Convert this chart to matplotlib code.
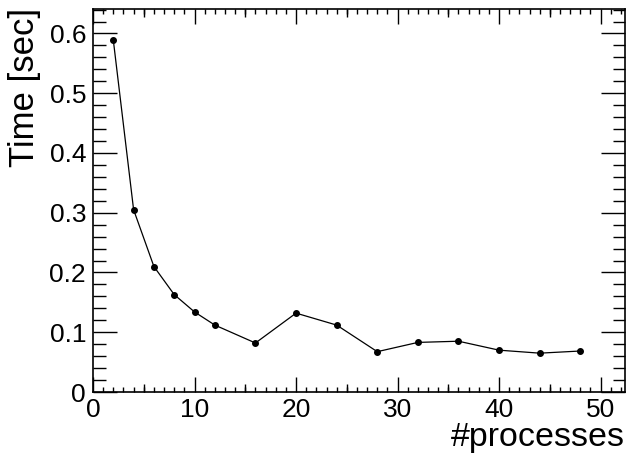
import matplotlib
matplotlib.use("Agg")
import matplotlib.pyplot as plt
from matplotlib.ticker import MultipleLocator, NullFormatter

processes = [2, 4, 6, 8, 10, 12, 16, 20, 24, 28, 32, 36, 40, 44, 48]
time_sec = [0.589, 0.305, 0.210, 0.163, 0.134, 0.112, 0.082, 0.132, 0.112,
            0.0675, 0.083, 0.085, 0.070, 0.065, 0.0686]

plt.rcParams["font.family"] = ["Liberation Sans", "DejaVu Sans"]

fig = plt.figure(figsize=(6.3, 4.55), dpi=100)
ax = fig.add_axes([93 / 630, 1 - 392 / 455, (625 - 93) / 630, (392 - 9) / 455])

ax.plot(processes, time_sec, color="black", lw=0.9, marker="o", ms=4,
        markerfacecolor="black", markeredgecolor="black")

ax.set_xlim(0, 52.4)
ax.set_ylim(0, 0.641)

for s in ax.spines.values():
    s.set_linewidth(1.2)

ax.xaxis.set_major_locator(MultipleLocator(10))
ax.xaxis.set_minor_locator(MultipleLocator(1))
ax.yaxis.set_major_locator(MultipleLocator(0.1))
ax.yaxis.set_minor_locator(MultipleLocator(0.02))
ax.tick_params(axis="both", which="both", direction="in", top=True, right=True,
               labelsize=19, width=1.0)
ax.tick_params(axis="x", which="major", length=11, pad=4)
ax.tick_params(axis="x", which="minor", length=3.5)
ax.tick_params(axis="y", which="major", length=17, pad=5)
ax.tick_params(axis="y", which="minor", length=9)

ax.set_xticks([0, 10, 20, 30, 40, 50])
ax.set_xticklabels(["0", "10", "20", "30", "40", "50"])
ax.set_yticks([0, 0.1, 0.2, 0.3, 0.4, 0.5, 0.6])
ax.set_yticklabels(["0", "0.1", "0.2", "0.3", "0.4", "0.5", "0.6"])

# medium ticks every 5 on the x axis (bottom and top)
for side in ("bottom", "top"):
    sec = ax.secondary_xaxis(side)
    sec.set_xticks([5, 15, 25, 35, 45])
    sec.xaxis.set_major_formatter(NullFormatter())
    sec.tick_params(direction="in", length=6, width=1.0)
    sec.spines[side].set_visible(False)

fig.text(625 / 630, 1 - 446 / 455, "#processes", ha="right", va="baseline",
         fontsize=24.5)
fig.text(8 / 630, 1 - 8 / 455, "Time [sec]", ha="left", va="top",
         rotation=90, fontsize=25)

fig.savefig("out.png", dpi=100)
